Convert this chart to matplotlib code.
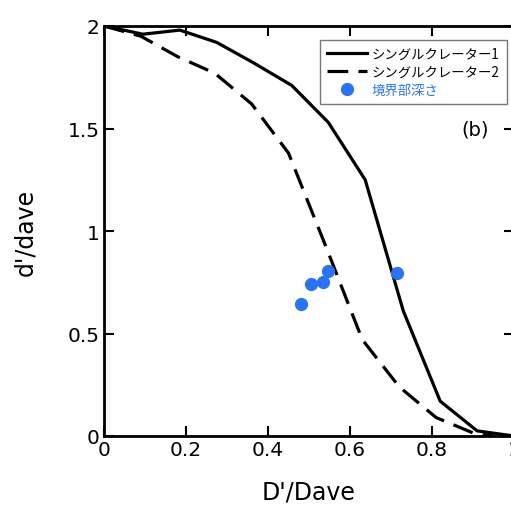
import matplotlib
matplotlib.use('Agg')
import matplotlib.pyplot as plt

plt.rcParams['font.family'] = ['DejaVu Sans', 'Noto Sans CJK JP']

# シングルクレーター1 (solid)
x1 = [0.0, 0.095, 0.185, 0.275, 0.365, 0.458, 0.547, 0.637, 0.73, 0.82, 0.91, 1.0]
y1 = [2.0, 1.96, 1.98, 1.92, 1.82, 1.71, 1.53, 1.25, 0.61, 0.17, 0.025, 0.0]

# シングルクレーター2 (dashed)
x2 = [0.0, 0.09, 0.18, 0.27, 0.36, 0.45, 0.54, 0.63, 0.72, 0.81, 0.9, 0.95]
y2 = [2.0, 1.95, 1.85, 1.77, 1.62, 1.38, 0.93, 0.47, 0.24, 0.09, 0.015, 0.0]

# 境界部深さ
xp = [0.48, 0.505, 0.535, 0.546, 0.714]
yp = [0.645, 0.74, 0.75, 0.805, 0.795]

labels = ['シングルクレーター1', 'シングルクレーター2', '境界部深さ']
blue = '#2a72f6'

fig = plt.figure(figsize=(5.11, 5.06), dpi=100)
ax = fig.add_axes([104 / 511, 69 / 506, 410 / 511, 410 / 506])

ax.plot(x1, y1, color='black', lw=2.3, label=labels[0])
ax.plot(x2, y2, color='black', lw=2.3, dashes=(6.5, 3.2), label=labels[1])
ax.plot(xp, yp, 'o', color=blue, ms=8.5, label=labels[2])

ax.set_xlim(0, 1)
ax.set_ylim(0, 2)
ax.set_xticks([0, 0.2, 0.4, 0.6, 0.8, 1.0])
ax.set_xticklabels(['0', '0.2', '0.4', '0.6', '0.8', '1'])
ax.set_yticks([0, 0.5, 1, 1.5, 2])
ax.set_yticklabels(['0', '0.5', '1', '1.5', '2'])
ax.tick_params(direction='in', length=7, width=1.5, labelsize=14.5,
               top=True, right=True, pad=3, colors='black')
for s in ax.spines.values():
    s.set_linewidth(2)

ax.set_xlabel("D'/Dave", fontsize=17, labelpad=15)
ax.set_ylabel("d'/dave", fontsize=17, labelpad=22)

ax.text(0.905, 1.5, '(b)', fontsize=14, ha='center', va='center')

leg = ax.legend(loc='upper right', bbox_to_anchor=(0.983, 0.967),
                prop={'family': ['Noto Sans CJK JP'], 'size': 9.6},
                frameon=True, fancybox=False, edgecolor='#555555',
                handlelength=3.0, borderpad=0.55, labelspacing=0.3,
                handletextpad=0.35, borderaxespad=0)
leg.get_frame().set_linewidth(1)
leg.get_texts()[2].set_color(blue)

fig.savefig('out.png', dpi=100)
